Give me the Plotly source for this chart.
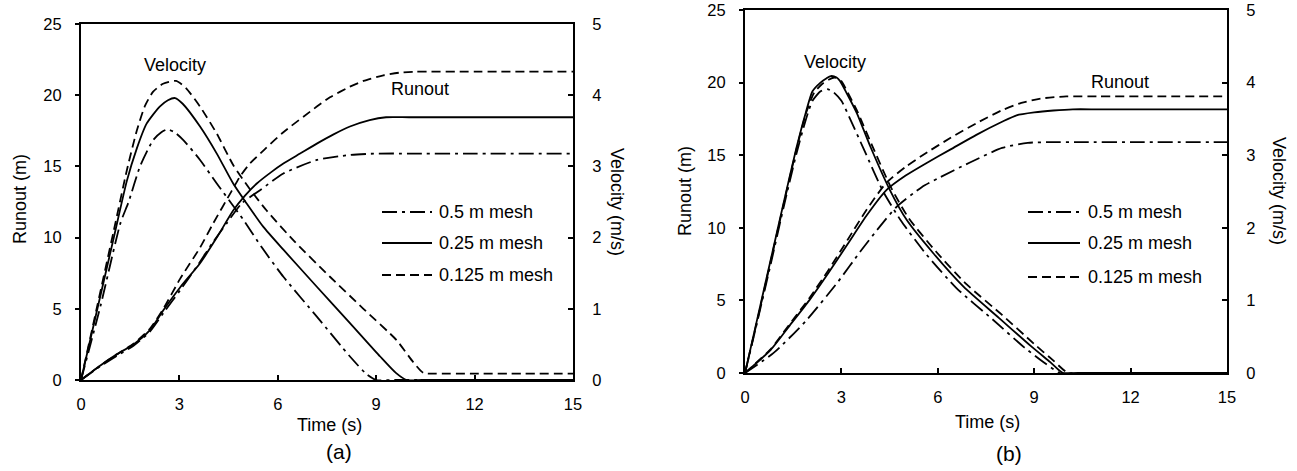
import plotly.graph_objects as go

# ---------------- DATA ----------------
# Panel (a) velocity (m/s)
ta_v05 = [0, 0.6, 1.2, 1.45, 1.8, 2.2, 2.45, 2.63, 2.85, 3.12, 3.63, 4.14, 4.95, 5.5, 6.17, 7.19, 8.2, 8.71, 9.0, 9.5, 12, 15]
va_05 = [0, 1.05, 2.2, 2.5, 3.0, 3.37, 3.48, 3.52, 3.48, 3.37, 3.09, 2.76, 2.25, 1.87, 1.45, 0.89, 0.33, 0.08, 0, 0, 0, 0]
ta_v025 = [0, 0.5, 1.0, 1.4, 1.7, 2.0, 2.4, 2.65, 2.87, 3.1, 3.63, 4.14, 4.64, 5.05, 5.56, 6.17, 7.19, 8.2, 9.12, 9.6, 9.93, 10.4, 12, 15]
va_025 = [0, 1.0, 2.0, 2.8, 3.25, 3.6, 3.84, 3.93, 3.96, 3.88, 3.56, 3.18, 2.76, 2.48, 2.15, 1.83, 1.31, 0.80, 0.33, 0.1, 0, 0, 0, 0]
ta_v0125 = [0, 0.5, 1.0, 1.4, 1.7, 1.95, 2.2, 2.5, 2.9, 3.2, 3.63, 4.14, 4.64, 5.15, 5.66, 6.5, 7.59, 8.61, 9.62, 10.13, 10.44, 10.8, 12, 15]
va_0125 = [0, 1.05, 2.1, 2.95, 3.5, 3.85, 4.05, 4.16, 4.2, 4.1, 3.84, 3.46, 3.02, 2.68, 2.38, 1.95, 1.45, 1.0, 0.56, 0.25, 0.1, 0.09, 0.09, 0.09]

# Panel (a) runout (m)
ta_r05 = [0, 0.58, 1.09, 1.6, 2.1, 2.51, 3.02, 3.6, 4.0, 4.44, 4.9, 5.5, 6.17, 7.19, 8.2, 9.0, 10, 12, 15]
ra_05 = [0, 0.95, 1.7, 2.4, 3.4, 4.7, 6.3, 8.2, 9.6, 11.0, 12.4, 13.4, 14.5, 15.45, 15.8, 15.9, 15.9, 15.9, 15.9]
ta_r025 = [0, 0.58, 1.09, 1.6, 2.1, 2.51, 3.02, 3.63, 4.14, 4.64, 5.0, 5.36, 5.8, 6.17, 6.68, 7.19, 7.7, 8.2, 8.8, 9.3, 10, 12, 15]
ra_025 = [0, 1.0, 1.8, 2.5, 3.5, 4.9, 6.5, 8.2, 10.0, 11.9, 12.95, 13.8, 14.6, 15.2, 15.9, 16.6, 17.25, 17.8, 18.25, 18.45, 18.45, 18.45, 18.45]
ta_r0125 = [0, 0.58, 1.09, 1.6, 2.1, 2.51, 3.02, 3.63, 4.03, 4.6, 4.85, 5.15, 5.6, 6.17, 7.19, 7.59, 8.2, 8.61, 9.22, 9.7, 10.2, 12, 15]
ra_0125 = [0, 1.0, 1.8, 2.55, 3.6, 5.0, 7.1, 9.3, 11.0, 13.3, 14.3, 15.2, 16.2, 17.4, 19.2, 19.85, 20.6, 21.0, 21.4, 21.58, 21.65, 21.65, 21.65]

# Panel (b) velocity (m/s)
tb_v05 = [0, 0.4, 0.8, 1.2, 1.6, 1.9, 2.1, 2.35, 2.56, 2.75, 3.0, 3.27, 3.7, 4.3, 4.85, 5.65, 6.58, 7.7, 8.7, 9.35, 9.8, 10.3, 12, 15]
vb_05 = [0, 0.74, 1.5, 2.28, 3.02, 3.5, 3.75, 3.88, 3.91, 3.87, 3.75, 3.5, 3.08, 2.5, 2.1, 1.63, 1.17, 0.74, 0.35, 0.13, 0, 0, 0, 0]
tb_v025 = [0, 0.4, 0.8, 1.2, 1.6, 1.9, 2.1, 2.35, 2.54, 2.67, 2.85, 2.96, 3.17, 3.48, 3.9, 4.51, 5.03, 5.86, 6.8, 7.9, 8.9, 9.5, 9.9, 10.4, 12, 15]
vb_025 = [0, 0.78, 1.56, 2.34, 3.1, 3.6, 3.88, 4.0, 4.06, 4.09, 4.07, 4.02, 3.85, 3.58, 3.12, 2.52, 2.11, 1.65, 1.19, 0.76, 0.37, 0.15, 0, 0, 0, 0]
tb_v0125 = [0, 0.4, 0.8, 1.2, 1.6, 1.9, 2.15, 2.4, 2.6, 2.8, 3.0, 3.2, 3.5, 3.95, 4.55, 5.1, 5.95, 6.9, 8.0, 9.0, 9.6, 10.05, 10.5, 12, 15]
vb_0125 = [0, 0.76, 1.54, 2.32, 3.08, 3.58, 3.86, 3.98, 4.04, 4.07, 4.02, 3.86, 3.6, 3.14, 2.55, 2.13, 1.67, 1.22, 0.8, 0.4, 0.17, 0, 0, 0, 0]

# Panel (b) runout (m)
tb_r05 = [0, 0.9, 1.9, 2.9, 3.6, 4.2, 4.72, 5.5, 6.0, 7.0, 8.0, 8.8, 9.5, 10.5, 12, 15]
rb_05 = [0, 1.4, 3.6, 6.3, 8.4, 10.1, 11.45, 12.8, 13.4, 14.5, 15.5, 15.85, 15.9, 15.9, 15.9, 15.9]
tb_r025 = [0, 0.8, 1.4, 2.0, 2.6, 3.2, 3.8, 4.4, 5.0, 5.6, 6.4, 7.2, 8.0, 8.45, 9.0, 9.6, 10.2, 11, 13, 15]
rb_025 = [0, 1.6, 3.3, 5.0, 6.9, 8.9, 10.9, 12.6, 13.6, 14.4, 15.4, 16.4, 17.3, 17.75, 17.95, 18.08, 18.16, 18.16, 18.16, 18.16]
tb_r0125 = [0, 0.8, 1.4, 2.0, 2.6, 3.2, 3.8, 4.4, 5.0, 5.6, 6.4, 7.2, 8.0, 8.6, 9.2, 10.0, 11, 13, 15]
rb_0125 = [0, 1.65, 3.4, 5.15, 7.1, 9.2, 11.3, 13.1, 14.2, 15.1, 16.2, 17.2, 18.1, 18.6, 18.9, 19.05, 19.05, 19.05, 19.05]

x_ticks = [0, 3, 6, 9, 12, 15]
runout_ticks = [0, 5, 10, 15, 20, 25]
vel_ticks = [0, 1, 2, 3, 4, 5]
mesh_labels = ["0.5 m mesh", "0.25 m mesh", "0.125 m mesh"]

# ---------------- STYLE ----------------
W, H = 1297, 471
FONT = "Liberation Sans, Arial, sans-serif"
DASHES = ["15px,5px,3px,5px", "solid", "9px,5px"]
LW = 1.8
TICK_SIZE = 16.5
LABEL_SIZE = 18


def px(x):
    return x / W


def py(y):
    return 1 - y / H


fig = go.Figure()

panels = [
    ("x", "y", "y2",
     [(ta_v05, va_05), (ta_v025, va_025), (ta_v0125, va_0125)],
     [(ta_r05, ra_05), (ta_r025, ra_025), (ta_r0125, ra_0125)]),
    ("x2", "y3", "y4",
     [(tb_v05, vb_05), (tb_v025, vb_025), (tb_v0125, vb_0125)],
     [(tb_r05, rb_05), (tb_r025, rb_025), (tb_r0125, rb_0125)]),
]

for xa, yr, yv, vel, run in panels:
    for i, (t, v) in enumerate(vel):
        fig.add_trace(go.Scatter(x=t, y=v, xaxis=xa, yaxis=yv, mode="lines",
                                 line=dict(color="black", width=LW, dash=DASHES[i],
                                           shape="spline", smoothing=0.6),
                                 name=mesh_labels[i], showlegend=False, hoverinfo="skip"))
    for i, (t, r) in enumerate(run):
        fig.add_trace(go.Scatter(x=t, y=r, xaxis=xa, yaxis=yr, mode="lines",
                                 line=dict(color="black", width=LW, dash=DASHES[i],
                                           shape="spline", smoothing=0.6),
                                 name=mesh_labels[i], showlegend=False, hoverinfo="skip"))

tickfont = dict(family=FONT, size=TICK_SIZE, color="black")
common_x = dict(range=[0, 15], tickvals=x_ticks, ticks="inside", ticklen=5, tickwidth=1.5,
                tickcolor="black", showline=True, linewidth=2, linecolor="black", mirror=True,
                showgrid=False, zeroline=False, tickfont=tickfont, ticklabelstandoff=8,
                automargin=False)
common_yl = dict(range=[0, 25], tickvals=runout_ticks, ticks="outside", ticklen=4, tickwidth=1.5,
                 tickcolor="black", showline=True, linewidth=2, linecolor="black",
                 showgrid=False, zeroline=False, tickfont=tickfont, ticklabelstandoff=10,
                 automargin=False)
common_yr = dict(range=[0, 5], tickvals=vel_ticks, ticks="inside", ticklen=5, tickwidth=1.5,
                 tickcolor="black", showline=True, linewidth=2, linecolor="black",
                 showgrid=False, zeroline=False, tickfont=tickfont, ticklabelstandoff=14,
                 side="right", automargin=False)

A = dict(x0=81, x1=573, y0=24, y1=380)
B = dict(x0=745, x1=1227, y0=10, y1=373)

fig.update_layout(
    template="none",
    width=W, height=H, margin=dict(l=0, r=0, t=0, b=0, pad=0), autosize=False,
    paper_bgcolor="white", plot_bgcolor="white", showlegend=False,
    font=dict(family=FONT, size=LABEL_SIZE, color="black"),
    xaxis=dict(domain=[px(A["x0"]), px(A["x1"])], anchor="y", **common_x),
    yaxis=dict(domain=[py(A["y1"]), py(A["y0"])], anchor="x", **common_yl),
    yaxis2=dict(domain=[py(A["y1"]), py(A["y0"])], anchor="x", overlaying="y", **common_yr),
    xaxis2=dict(domain=[px(B["x0"]), px(B["x1"])], anchor="y3", **common_x),
    yaxis3=dict(domain=[py(B["y1"]), py(B["y0"])], anchor="x2", **common_yl),
    yaxis4=dict(domain=[py(B["y1"]), py(B["y0"])], anchor="x2", overlaying="y3", **common_yr),
)

ann = []
shapes = []


def text(x, y, s, size=LABEL_SIZE, angle=0, xanchor="center"):
    ann.append(dict(x=px(x), y=py(y), xref="paper", yref="paper", text=s, showarrow=False,
                    textangle=angle, xanchor=xanchor, yanchor="middle",
                    font=dict(family=FONT, size=size, color="black")))


text(20, 199, "Runout (m)", angle=-90)
text(617, 202, "Velocity (m/s)", angle=90)
text(330, 425, "Time (s)")
text(339, 451, "(a)", size=21)
text(685, 191, "Runout (m)", angle=-90)
text(1279, 191, "Velocity (m/s)", angle=90)
text(988, 422, "Time (s)")
text(1009, 453, "(b)", size=21)

text(175, 65, "Velocity")
text(420, 89, "Runout")
text(835, 62, "Velocity")
text(1120, 82, "Runout")

for (lx0, lx1, tx, rows) in [(382, 432, 437, [212, 243, 275]), (1028, 1080, 1086, [212, 243, 277])]:
    for i, yy in enumerate(rows):
        shapes.append(dict(type="line", xref="paper", yref="paper", x0=px(lx0), x1=px(lx1),
                           y0=py(yy), y1=py(yy),
                           line=dict(color="black", width=LW, dash=DASHES[i])))
        text(tx, yy, mesh_labels[i], xanchor="left")

fig.update_layout(annotations=ann, shapes=shapes)

fig.write_html("out.html", config={"displayModeBar": False},
               post_script="document.body.style.margin='0px';")
